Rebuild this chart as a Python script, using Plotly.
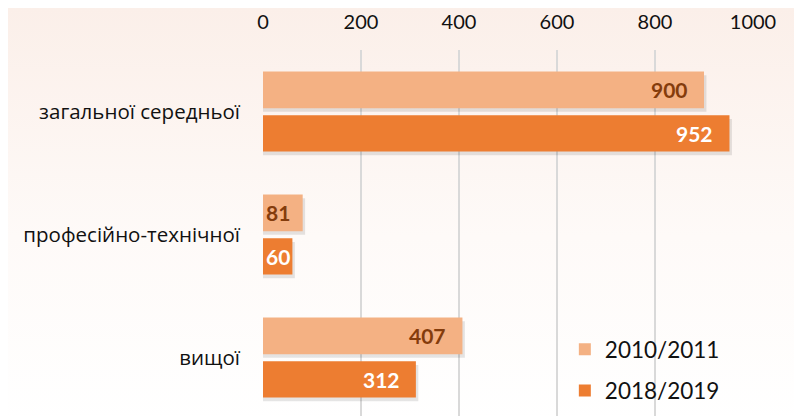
import base64
import plotly.graph_objects as go

categories = ["загальної середньої", "професійно-технічної", "вищої"]
series_names = ["2010/2011", "2018/2019"]
values_2010 = [900, 81, 407]
values_2018 = [952, 60, 312]
x_ticks = [0, 200, 400, 600, 800, 1000]

W, H = 802, 416
# page body has an 8px margin, so figure coordinates are shifted by 8px
ML, MR, MT, MB = 255, 57, 42, 5
PW = W - ML - MR
PH = H - MT - MB
FONT = "Lato, 'Open Sans', sans-serif"
CYR_FONT = "'Open Sans', sans-serif"

light = "#F4B183"
dark = "#ED7D31"
label_light = "#843C0C"
label_dark = "#FFFFFF"

fig = go.Figure()

# background gradient
svg = (
    f'<svg xmlns="http://www.w3.org/2000/svg" width="{W}" height="{H}">'
    '<defs><linearGradient id="g" x1="0" y1="0" x2="0" y2="1">'
    '<stop offset="0" stop-color="#FBEFE9"/>'
    '<stop offset="0.55" stop-color="#FEFAF8"/>'
    '<stop offset="1" stop-color="#FFFFFF"/>'
    '</linearGradient></defs>'
    f'<rect width="{W}" height="{H}" fill="url(#g)"/></svg>'
)
src = "data:image/svg+xml;base64," + base64.b64encode(svg.encode()).decode()
fig.add_layout_image(
    source=src, xref="paper", yref="paper",
    x=-ML / PW, y=1 + MT / PH, sizex=W / PW, sizey=H / PH,
    xanchor="left", yanchor="top", sizing="stretch", layer="below",
)

specs = [
    (series_names[0], values_2010, light, label_light, -0.325, 0.298),
    (series_names[1], values_2018, dark, label_dark, 0.030, 0.295),
]

px_per_unit = PW / 1000.0
px_per_cat = PH / 3.0

# shadows
for name, vals, col, lcol, off, wid in specs:
    fig.add_trace(go.Bar(
        y=categories, x=[v + 5 for v in vals], orientation="h",
        offset=off + 0.03, width=wid, marker=dict(color="rgba(0,0,0,0.10)", line=dict(width=0)),
        showlegend=False, hoverinfo="skip",
    ))

for name, vals, col, lcol, off, wid in specs:
    fig.add_trace(go.Bar(
        y=categories, x=vals, orientation="h", name=name,
        offset=off, width=wid, marker=dict(color=col, line=dict(width=0)),
        legendgroup=name,
    ))
    for c, v in zip(categories, vals):
        txt = str(v)
        tw = 13 * len(txt)
        bar_px = v * px_per_unit
        shift = -max(0, min(14, bar_px - tw - 3))
        fig.add_annotation(
            x=v, y=c, yshift=-(off + wid / 2) * px_per_cat, xanchor="right", xshift=shift,
            text=f"<b>{txt}</b>", showarrow=False,
            font=dict(family=FONT, size=21, color=lcol),
        )

fig.update_layout(
    width=W, height=H,
    margin=dict(l=ML, r=MR, t=MT, b=MB),
    barmode="overlay",
    paper_bgcolor="white",
    plot_bgcolor="rgba(0,0,0,0)",
    font=dict(family=FONT, color="#111111"),
    showlegend=True,
    legend=dict(
        x=0.616, y=0.246, xanchor="left", yanchor="top",
        bgcolor="rgba(0,0,0,0)", font=dict(family=FONT, size=22.5, color="#111111"),
        traceorder="grouped", tracegroupgap=9, itemwidth=30,
    ),
    xaxis=dict(
        range=[0, 1000], side="top", tickvals=x_ticks,
        showgrid=True, gridcolor="#D9D9D9", gridwidth=1.5,
        zeroline=False, showline=False, ticks="",
        tickfont=dict(family=FONT, size=20, color="#111111"),
        ticklabelstandoff=16, automargin=False,
    ),
    yaxis=dict(
        categoryorder="array", categoryarray=categories,
        range=[2.5, -0.5],
        showgrid=False, zeroline=False, showline=False, ticks="",
        tickfont=dict(family=CYR_FONT, size=20.5, color="#111111"),
        ticklabelstandoff=22, automargin=False,
    ),
)

fig.write_html("out.html")
